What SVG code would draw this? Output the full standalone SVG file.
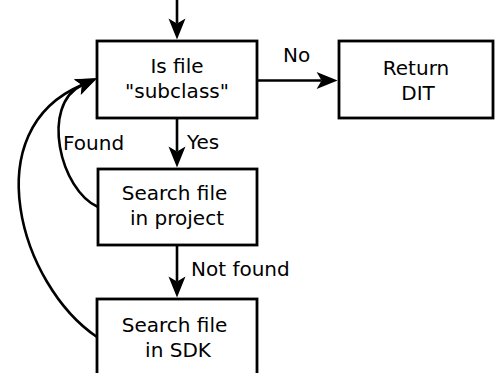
<svg xmlns="http://www.w3.org/2000/svg" width="495" height="373" viewBox="0 0 495 373">
  <style>
    .box { fill: #ffffff; stroke: #000000; stroke-width: 2.8; }
    .edge { fill: none; stroke: #000000; stroke-width: 2.6; }
    text { font-family: "DejaVu Sans", "Liberation Sans", sans-serif; font-size: 20px; fill: #000000; }
    .c { text-anchor: middle; }
  </style>
  <defs>
    <!-- arrowhead drawn from the line end forward: tip is 16px past the end point -->
    <marker id="head" markerUnits="userSpaceOnUse" markerWidth="40" markerHeight="40" refX="0" refY="0" orient="auto" overflow="visible">
      <path d="M16,0 L-5,-8.5 L0,0 L-5,8.5 Z" fill="#000000"/>
    </marker>
  </defs>

  <rect width="495" height="373" fill="#ffffff"/>

  <g id="connectors">
    <!-- entry arrow -->
    <line class="edge" x1="177" y1="0" x2="177" y2="23.6" marker-end="url(#head)"/>
    <!-- Yes -->
    <line class="edge" x1="177" y1="118" x2="177" y2="151.5" marker-end="url(#head)"/>
    <!-- Not found -->
    <line class="edge" x1="177" y1="245" x2="177" y2="281.6" marker-end="url(#head)"/>
    <!-- No -->
    <line class="edge" x1="257" y1="80.5" x2="321.6" y2="80.5" marker-end="url(#head)"/>
    <!-- Found: back to the check -->
    <path class="edge" d="M98,207 C60,190 40,105 82,85" marker-end="url(#head)"/>
    <!-- from SDK search back to the check -->
    <path class="edge" d="M97,337 C20,285 -25,130 82,85" marker-end="url(#head)"/>
    <text x="283" y="62">No</text>
    <text x="187" y="149">Yes</text>
    <text x="63" y="150">Found</text>
    <text x="191" y="276">Not found</text>
  </g>

  <g id="is-subclass">
    <rect class="box" x="97" y="41" width="160" height="77"/>
    <text class="c" x="177" y="72.5">Is file</text>
    <text class="c" x="177" y="97.5">"subclass"</text>
  </g>

  <g id="return-dit">
    <rect class="box" x="339" y="41" width="154" height="77"/>
    <text class="c" x="416" y="75">Return</text>
    <text class="c" x="418" y="100">DIT</text>
  </g>

  <g id="search-project">
    <rect class="box" x="98" y="169" width="159" height="76"/>
    <text class="c" x="174.5" y="200">Search file</text>
    <text class="c" x="177" y="225">in project</text>
  </g>

  <g id="search-sdk">
    <rect class="box" x="97" y="299" width="160" height="90"/>
    <text class="c" x="174.5" y="331.5">Search file</text>
    <text class="c" x="178" y="356.5">in SDK</text>
  </g>
</svg>
